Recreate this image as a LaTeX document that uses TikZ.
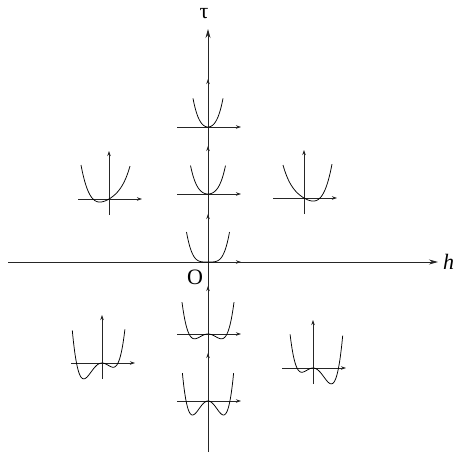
\documentclass[tikz,border=0pt]{standalone}
\usepackage{fontspec}
\setmainfont{Liberation Serif}
\usetikzlibrary{arrows.meta, positioning}

% small potential sketch: name, centre, domain, curve in \x
\newcommand{\potsketch}[4]{%
  \begin{scope}[shift={#2}]
    \coordinate (#1-w) at (-31,0);
    \coordinate (#1-e) at (33,0);
    \coordinate (#1-s) at (0,-16);
    \coordinate (#1-n) at (0,48);
    \draw [smallaxis] (#1-w) -- (#1-e);
    \draw [smallaxis] (#1-s) -- (#1-n);
    \draw [curve, x=10pt] plot [domain=#3, samples=80, smooth] (\x, {#4});
  \end{scope}}

\begin{document}
\begin{tikzpicture}[
    x=1pt, y=1pt,
    every node/.style={font=\fontsize{22}{24}\selectfont, inner sep=0pt},
    mainaxis/.style={draw=black!85, line width=0.8pt, -{Stealth[length=9pt, width=5pt]}},
    smallaxis/.style={draw=black!85, line width=0.7pt, -{Stealth[length=5pt, width=3.5pt]}},
    curve/.style={draw=black, line width=0.75pt}
]
\useasboundingbox (0,0) rectangle (460,453);

% Main axes
\coordinate (west) at (8,191);
\coordinate (east) at (438,191);
\coordinate (south) at (208,1);
\coordinate (north) at (208,424);
\draw [mainaxis] (west) -- (east);
\draw [mainaxis] (south) -- (north);

% Labels
\node (hlab) [right=5pt of east] {\textit{h}};
\node (taulab) at (204,439) {τ};
\node (origin) at (195,176) {O};

% Sketches along the tau axis
\potsketch{top}{(208,326)}{-1.5:1.5}{8*(\x)^2 + 2.1*(\x)^4}
\potsketch{upper}{(208,259)}{-1.75:1.75}{5*(\x)^2 + 1.4*(\x)^4}
\potsketch{zero}{(208,191)}{-2.15:2.15}{1.404*(\x)^4}
\potsketch{lower}{(208,119)}{-2.6:2.6}{4.8*((\x/1.34)^4 - 2*(\x/1.34)^2)}
\potsketch{bottom}{(208,52)}{-2.56:2.56}{14*((\x/1.55)^4 - 2*(\x/1.55)^2)}

% Sketches off the axis
\potsketch{upleft}{(109,254)}{-2.8:2.1}{2.36*(\x)^2 + 0.521*(\x)^4 + 5.91*\x}
\potsketch{upright}{(304,255)}{-2.1:2.8}{2.36*(\x)^2 + 0.521*(\x)^4 - 5.91*\x}
\potsketch{lowleft}{(102,90)}{-2.97:2.29}{1.92*(\x)^2*(\x+2.55)*(\x-1.6)}
\potsketch{lowright}{(313,85)}{-2.29:2.97}{1.92*(\x)^2*(\x-2.55)*(\x+1.6)}

\end{tikzpicture}
\end{document}
